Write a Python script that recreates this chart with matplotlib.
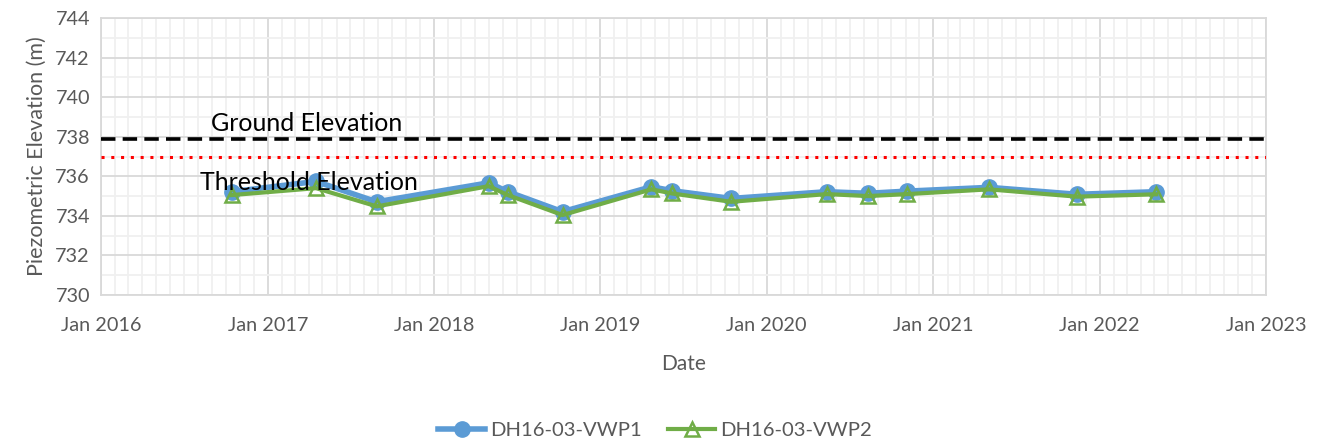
import matplotlib
matplotlib.use("Agg")
import matplotlib.pyplot as plt
import matplotlib.dates as mdates
from matplotlib.ticker import MultipleLocator
import pandas as pd

plt.rcParams['font.family'] = ['Lato', 'DejaVu Sans']

dates = pd.to_datetime([
    "2016-10-14", "2017-04-17", "2017-08-28", "2018-05-01", "2018-06-12",
    "2018-10-10", "2019-04-23", "2019-06-08", "2019-10-15", "2020-05-12",
    "2020-08-10", "2020-11-05", "2021-05-03", "2021-11-12", "2022-05-05",
])
vwp1 = [735.22, 735.74, 734.71, 735.67, 735.22, 734.21, 735.47, 735.27,
        734.88, 735.22, 735.14, 735.25, 735.44, 735.09, 735.22]
vwp2 = [735.05, 735.40, 734.48, 735.50, 735.05, 734.04, 735.34, 735.13,
        734.71, 735.10, 735.00, 735.10, 735.34, 734.97, 735.09]
ground_elev = 737.9
threshold_elev = 737.0
x_tick_labels = ["Jan 2016", "Jan 2017", "Jan 2018", "Jan 2019",
                 "Jan 2020", "Jan 2021", "Jan 2022", "Jan 2023"]
x_ticks = pd.to_datetime(["2016-01-01", "2017-01-01", "2018-01-01", "2019-01-01",
                          "2020-01-01", "2021-01-01", "2022-01-01", "2023-01-01"])

fig = plt.figure(figsize=(13.24, 4.46), dpi=100)
ax = fig.add_axes([101/1324, 1-295/446, (1266-101)/1324, (295-18)/446])

blue = "#5B9BD5"
green = "#70AD47"

ax.axhline(ground_elev, color="black", linestyle=(0, (4, 2)), linewidth=2.6, zorder=3)
ax.axhline(threshold_elev, color="#FF0000", linestyle=(0, (1, 2.2)), linewidth=2.2, zorder=3)

ax.plot(dates, vwp1, color=blue, linewidth=4, marker="o", markersize=11,
        label="DH16-03-VWP1", zorder=4)
ax.plot(dates, vwp2, color=green, linewidth=3, marker="^", markersize=10,
        markerfacecolor="none", markeredgecolor=green, markeredgewidth=1.8,
        label="DH16-03-VWP2", zorder=5)

ax.set_xlim(x_ticks[0], x_ticks[-1])
ax.set_ylim(730, 744)
ax.set_xticks(x_ticks)
ax.set_xticklabels(x_tick_labels)
ax.xaxis.set_minor_locator(mdates.MonthLocator())
ax.yaxis.set_major_locator(MultipleLocator(2))
ax.yaxis.set_minor_locator(MultipleLocator(1))

ax.grid(which="major", color="#D9D9D9", linewidth=1.3, zorder=0)
ax.grid(which="minor", color="#F0F0F0", linewidth=1.3, zorder=0)
ax.set_axisbelow(True)
for s in ax.spines.values():
    s.set_color("#D9D9D9")
    s.set_linewidth(1.3)
ax.tick_params(which="both", length=0, labelsize=14.3, labelcolor="#595959")
ax.tick_params(axis="x", pad=16)
ax.tick_params(axis="y", pad=8)

ax.set_xlabel("Date", fontsize=15, color="#595959", labelpad=14)
ax.set_ylabel("Piezometric Elevation (m)", fontsize=15.5, color="#595959", labelpad=6)

ax.text(pd.Timestamp("2016-08-29"), 738.3, "Ground Elevation", fontsize=18,
        color="black", ha="left", va="baseline", zorder=6)
ax.text(pd.Timestamp("2016-08-05"), 735.3, "Threshold Elevation", fontsize=18,
        color="black", ha="left", va="baseline", zorder=6)

leg = fig.legend(loc="center", bbox_to_anchor=(655/1324, 1-430/446), ncol=2,
                 frameon=False, fontsize=14.6, handlelength=2.3,
                 columnspacing=1.3, handletextpad=0.25)
for t in leg.get_texts():
    t.set_color("#595959")

fig.savefig("out.png", dpi=100)
